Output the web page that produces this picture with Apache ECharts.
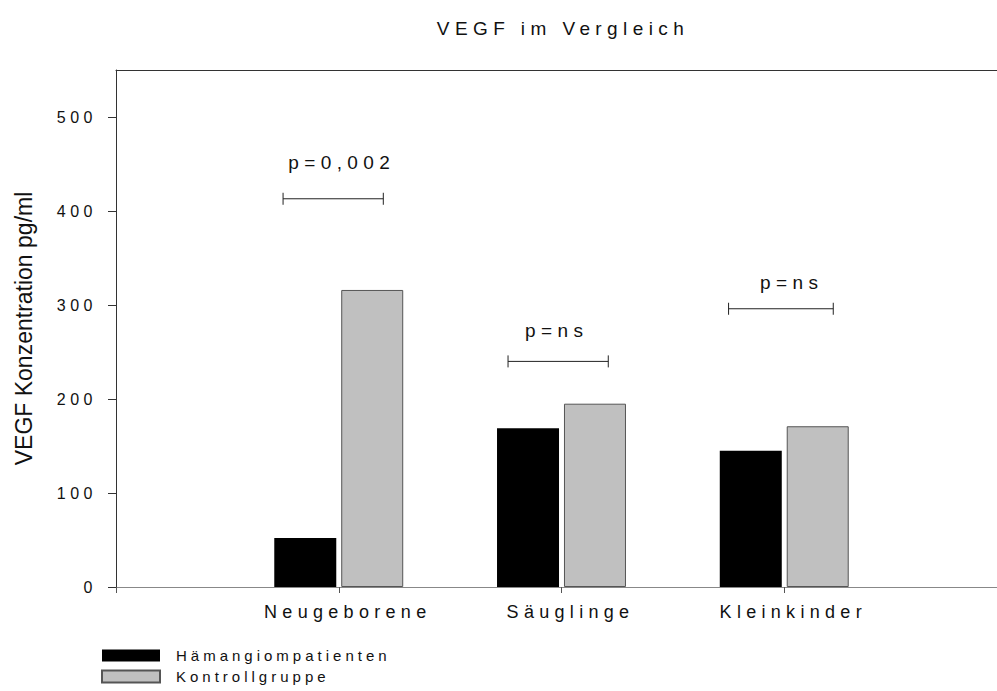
<!DOCTYPE html>
<html>
<head>
<meta charset="utf-8">
<script src="https://cdn.jsdelivr.net/npm/echarts@6/dist/echarts.min.js"></script>
<style>
  html, body { margin: 0; padding: 0; background: #fff; }
  #chart { width: 997px; height: 691px; }
</style>
</head>
<body>
<div id="chart"></div>
<script>
// groups on the x axis (positions 1..3, position 0 left empty like the original)
var categories = ['', 'Neugeborene', 'Säuglinge', 'Kleinkinder'];
var groupPos = [1, 2, 3];
var patienten = [52, 169, 145];
var kontrolle = [316, 195, 171];
var yTicks = [0, 100, 200, 300, 400, 500];

// significance brackets
var sigStart = [0.75, 1.76, 2.75];
var sigEnd = [1.2, 2.21, 3.22];
var sigLevel = [413, 240, 296];
var sigLabelPos = [1.0, 1.965, 3.02];
var sigLabelLevel = [452, 273, 324];
var sigLabels = ['p=0,002', 'p=ns', 'p=ns'];

var FONT = '"Liberation Sans", Arial, sans-serif';

var chart = echarts.init(document.getElementById('chart'), null, { renderer: 'svg' });

var sigData = [];
for (var i = 0; i < sigLabels.length; i++) {
    sigData.push([sigStart[i], sigEnd[i], sigLevel[i], sigLabelPos[i], sigLabelLevel[i], sigLabels[i]]);
}

chart.setOption({
    animation: false,
    backgroundColor: '#fff',
    title: {
        text: 'VEGF im Vergleich',
        left: 558,
        top: 14,
        textAlign: 'center',
        textStyle: { fontFamily: FONT, fontSize: 19, fontWeight: 'normal', color: '#111' }
    },
    legend: {
        data: ['Hämangiompatienten', 'Kontrollgruppe'],
        orient: 'vertical',
        left: 101,
        top: 648,
        padding: 0,
        itemWidth: 58,
        itemHeight: 12,
        itemGap: 6,
        icon: 'rect',
        textStyle: { fontFamily: FONT, fontSize: 15, color: '#111', padding: [0, 0, 0, 11] }
    },
    grid: { left: 116, width: 891, top: 70, bottom: 104, outerBoundsMode: 'none' },
    xAxis: [{
        type: 'value',
        min: 0,
        max: 4,
        interval: 1,
        splitLine: { show: false },
        axisLine: { show: true, lineStyle: { color: '#888', width: 1 } },
        axisTick: { show: true, length: 6, customValues: [0].concat(groupPos), lineStyle: { color: '#555' } },
        axisLabel: {
            margin: 16,
            customValues: groupPos,
            fontFamily: FONT, fontSize: 18, color: '#111',
            padding: [0, 0, 0, 18],
            formatter: function (v) { return categories[v] || ''; }
        }
    }, {
        type: 'value',
        position: 'top',
        min: 0,
        max: 4,
        axisLine: { show: true, onZero: false, lineStyle: { color: '#333', width: 1 } },
        axisTick: { show: false },
        axisLabel: { show: false },
        splitLine: { show: false }
    }],
    yAxis: {
        type: 'value',
        min: 0,
        max: 550,
        interval: 100,
        name: 'VEGF Konzentration pg/ml',
        nameLocation: 'middle',
        nameGap: 81,
        nameTextStyle: { fontFamily: FONT, fontSize: 23, color: '#111' },
        splitLine: { show: false },
        axisLine: { show: true, lineStyle: { color: '#333', width: 1 } },
        axisTick: { show: true, length: 8, customValues: yTicks, lineStyle: { color: '#333' } },
        axisLabel: {
            margin: 19,
            customValues: yTicks,
            fontFamily: FONT, fontSize: 16, color: '#111'
        }
    },
    series: [{
        name: 'Hämangiompatienten',
        type: 'bar',
        barWidth: 62,
        barGap: '8%',
        itemStyle: { color: '#000' },
        data: groupPos.map(function (x, i) { return [x, patienten[i]]; })
    }, {
        name: 'Kontrollgruppe',
        type: 'bar',
        barWidth: 62,
        itemStyle: { color: '#c0c0c0', borderColor: '#555', borderWidth: 1 },
        data: groupPos.map(function (x, i) { return [x, kontrolle[i]]; })
    }, {
        name: 'sig',
        type: 'custom',
        silent: true,
        encode: { x: [0, 1, 3], y: [2, 4] },
        data: sigData,
        renderItem: function (params, api) {
            var a = api.coord([api.value(0), api.value(2)]);
            var b = api.coord([api.value(1), api.value(2)]);
            var t = api.coord([api.value(3), api.value(4)]);
            var h = 6;
            var st = { stroke: '#222', lineWidth: 1 };
            return {
                type: 'group',
                children: [
                    { type: 'line', shape: { x1: a[0], y1: a[1], x2: b[0], y2: b[1] }, style: st },
                    { type: 'line', shape: { x1: a[0], y1: a[1] - h, x2: a[0], y2: a[1] + h }, style: st },
                    { type: 'line', shape: { x1: b[0], y1: b[1] - h, x2: b[0], y2: b[1] + h }, style: st },
                    {
                        type: 'text',
                        style: {
                            text: sigLabels[params.dataIndex],
                            x: t[0] + 3, y: t[1],
                            align: 'center', verticalAlign: 'middle',
                            fontFamily: FONT, fontSize: 19, fill: '#111'
                        }
                    }
                ]
            };
        }
    }]
});

// the original uses wide letter spacing on most texts
var spacing = { 15: 4, 16: 4.5, 18: 5.3, 19: 5.4 };
chart.getDom().querySelectorAll('text').forEach(function (t) {
    var fs = parseFloat(getComputedStyle(t).fontSize);
    if (spacing[fs]) t.style.letterSpacing = spacing[fs] + 'px';
});
</script>
</body>
</html>
